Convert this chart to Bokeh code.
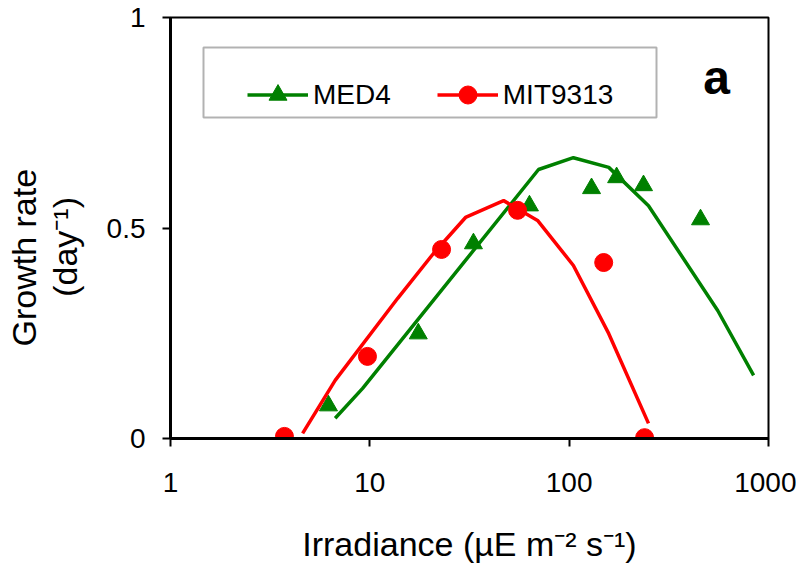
from bokeh.plotting import figure
from bokeh.models import (Range1d, FixedTicker, Label, Legend, LegendItem,
                          Title, BoxAnnotation)
from bokeh.embed import file_html
from bokeh.resources import INLINE

# Data
med4_x = [6.2, 17.5, 33.1, 63.2, 129.5, 173, 236, 456]
med4_y = [0.078, 0.249, 0.463, 0.553, 0.594, 0.620, 0.601, 0.520]
med4_fit_x = [6.7, 9.2, 70.2, 105, 158, 250, 556, 842]
med4_fit_y = [0.048, 0.119, 0.639, 0.667, 0.644, 0.553, 0.304, 0.150]

mit_x = [3.73, 9.73, 22.9, 55.1, 149, 239]
mit_y = [0.005, 0.195, 0.449, 0.542, 0.418, 0.002]
mit_fit_x = [4.6, 6.7, 13.8, 20.9, 30.2, 46.9, 69.4, 105, 158, 250]
mit_fit_y = [0.012, 0.138, 0.333, 0.440, 0.525, 0.565, 0.518, 0.411, 0.249, 0.036]

x_ticks = [1, 10, 100, 1000]
x_tick_labels = ["1", "10", "100", "1000"]
y_ticks = [0, 0.5, 1]
y_tick_labels = ["0", "0.5", "1"]

GREEN = "#008000"
RED = "#FF0000"
FONT = "Liberation Sans"

p = figure(width=796, height=569, x_axis_type="log",
           x_range=Range1d(1, 1000), y_range=Range1d(0, 1),
           output_backend="svg", toolbar_location=None,
           min_border_left=170, min_border_right=28,
           min_border_top=17, min_border_bottom=131)

p.xgrid.visible = False
p.ygrid.visible = False
p.outline_line_color = "black"
p.outline_line_width = 2
p.background_fill_color = "white"
p.border_fill_color = "white"

for ax in (p.xaxis[0], p.yaxis[0]):
    ax.axis_line_width = 3
    ax.axis_line_color = "black"
    ax.major_tick_line_width = 2
    ax.major_tick_line_color = "black"
    ax.major_tick_out = 8
    ax.major_tick_in = 0
    ax.minor_tick_line_color = None
    ax.major_label_text_font = FONT
    ax.major_label_text_font_size = "28px"
    ax.major_label_text_color = "black"
    ax.axis_label_text_font = FONT
    ax.axis_label_text_font_size = "34px"
    ax.axis_label_text_font_style = "normal"
    ax.axis_label_text_color = "black"

p.xaxis.ticker = FixedTicker(ticks=x_ticks)
p.xaxis.major_label_overrides = {t: l for t, l in zip(x_ticks, x_tick_labels)}
p.xaxis.major_label_standoff = 26
p.yaxis.ticker = FixedTicker(ticks=y_ticks)
p.yaxis.major_label_overrides = {t: l for t, l in zip(y_ticks, y_tick_labels)}
p.yaxis.major_label_standoff = 17

p.xaxis.axis_label = "Irradiance (\u00b5E m\u207b\u00b2 s\u207b\u00b9)"
p.xaxis.axis_label_standoff = 30

# y-axis title: second line as the axis label, first line as a side title
p.yaxis.axis_label = "(day\u207b\u00b9)" + "\u00a0" * 4
p.yaxis.axis_label_standoff = 20
p.add_layout(Title(text="Growth rate", align="left", offset=92, standoff=0,
                   text_font=FONT, text_font_size="34px",
                   text_font_style="normal", text_color="black"), "left")

# Lines and markers
l1 = p.line(med4_fit_x, med4_fit_y, line_color=GREEN, line_width=3.5)
s1 = p.scatter(med4_x, med4_y, marker="triangle", size=18,
               fill_color=GREEN, line_color=GREEN)
l2 = p.line(mit_fit_x, mit_fit_y, line_color=RED, line_width=3.5)
s2 = p.scatter(mit_x, mit_y, marker="circle", size=18,
               fill_color=RED, line_color=RED)

# legend frame
p.add_layout(BoxAnnotation(left=33, right=486, bottom=321, top=391,
                           left_units="screen", right_units="screen",
                           top_units="screen", bottom_units="screen",
                           fill_color="white", fill_alpha=1,
                           line_color="black", line_width=2))

legend = Legend(items=[LegendItem(label="MED4", renderers=[l1, s1]),
                       LegendItem(label="MIT9313", renderers=[l2, s2])],
                orientation="horizontal", location=(77, 321),
                glyph_width=61, glyph_height=45, label_standoff=5,
                spacing=46, padding=12, margin=0,
                label_text_font=FONT, label_text_font_size="28px",
                label_text_color="black",
                border_line_color=None, background_fill_alpha=0)
p.add_layout(legend, "center")

p.add_layout(Label(x=546, y=361, x_units="screen", y_units="screen",
                   text="a", text_align="center", text_baseline="alphabetic",
                   text_font=FONT, text_font_size="48px",
                   text_font_style="bold", text_color="black"))

open("out.html", "w").write(file_html(p, INLINE))
